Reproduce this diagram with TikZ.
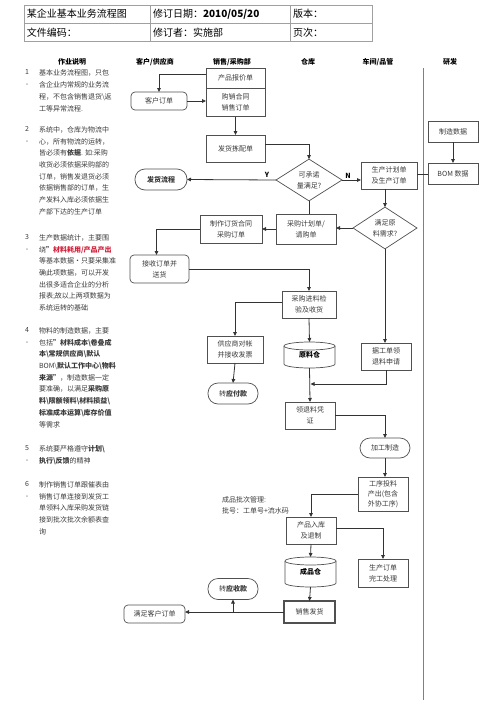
\documentclass[tikz,border=0pt]{standalone}
\usepackage{fontspec}
\setmainfont{Noto Sans CJK SC}
\usetikzlibrary{arrows.meta,shapes.geometric}
\definecolor{ln}{HTML}{333333}
\definecolor{bd}{HTML}{505050}
\definecolor{tx}{HTML}{3a3a3a}
\definecolor{redt}{HTML}{D0203A}
\definecolor{tbl}{HTML}{A0A0A0}
\begin{document}
\begin{tikzpicture}[x=1pt,y=-1pt,
 every node/.style={inner sep=0pt, outer sep=0pt, text=tx},
 bx/.style={draw=bd, line width=0.7pt, align=center, font=\fontsize{7}{11}\selectfont, fill=white},
 rbx/.style={bx, rounded corners=4pt},
 stad/.style={bx, rounded corners=10pt},
 dia/.style={bx, diamond},
 con/.style={draw=ln, line width=0.8pt},
 arr/.style={con, -{Triangle[length=4pt,width=3.6pt]}},
 hd/.style={font=\fontsize{7}{9}\selectfont\bfseries, text=black},
 lt/.style={font=\fontsize{7}{11.7}\selectfont, align=left, anchor=north west},
 num/.style={font=\fontsize{7}{11.7}\selectfont, align=center, anchor=north},
 tb/.style={font=\fontsize{10}{12}\selectfont, anchor=west, text=black},
 cyl/.style={draw=bd, line width=0.7pt, fill=white},
]
\useasboundingbox (0,0) rectangle (500,707);
% header table
\draw[draw=tbl, line width=0.6pt] (24,5) rectangle (372,41) (24,23) -- (372,23) (150,5) -- (150,41) (290,5) -- (290,41);
\node[tb] (t1) at (27,14) {某企业基本业务流程图};
\node[tb] (t2) at (153,14.5) {修订日期：\textbf{2010/05/20}};
\node[tb] (t3) at (293,14) {版本：};
\node[tb] (t4) at (27,32.5) {文件编码：};
\node[tb] (t5) at (153,32.5) {修订者：实施部};
\node[tb] (t6) at (293,32.5) {页次：};
% column headers
\node[hd] (h0) at (72,62) {作业说明};
\node[hd] (h1) at (155,62) {客户/供应商};
\node[hd] (h2) at (232,62) {销售/采购部};
\node[hd] (h3) at (308,62) {仓库};
\node[hd] (h4) at (378,62) {车间/品管};
\node[hd] (h5) at (450,62) {研发};
\draw[draw=gray, line width=0.8pt] (423,68) -- (423,700);
% left notes
\node[num] (m1) at (27,70) {1\\-};
\node[lt] (n1) at (39,70) {基本业务流程图，只包\\含企业内常规的业务流\\程，不包含销售退货\textbackslash 返\\工等异常流程.};
\node[num] (m2) at (27,126.5) {2\\-};
\node[lt] (n2) at (39,126.5) {系统中，仓库为物流中\\心，所有物流的运转，\\皆必须有\textbf{依据}. 如:采购\\收货必须依据采购部的\\订单，销售发退货必须\\依据销售部的订单，生\\产发料入库必须依据生\\产部下达的生产订单};
\node[num] (m3) at (27,234.5) {3\\-};
\node[lt] (n3) at (39,234.5) {生产数据统计，主要围\\绕\textbf{”}\textcolor{redt}{\textbf{材料耗用/产品产出}}\\等基本数据•只要采集准\\确此项数据，可以开发\\出很多适合企业的分析\\报表;故以上两项数据为\\系统运转的基础};
\node[num] (m4) at (27,327.5) {4\\-};
\node[lt] (n4) at (39,327.5) {物料的制造数据，主要\\包括\textbf{”材料成本\textbackslash 卷叠成}\\\textbf{本\textbackslash 常规供应商\textbackslash 默认}\\BOM\textbackslash\textbf{默认工作中心\textbackslash 物料}\\\textbf{来源”}，制造数据一定\\要准确，以满足\textbf{采购原}\\\textbf{料\textbackslash 限额领料\textbackslash 材料损益\textbackslash}\\\textbf{标准成本运算\textbackslash 库存价值}\\等需求};
\node[num] (m5) at (27,445.5) {5\\-};
\node[lt] (n5) at (39,445.5) {系统要严格遵守\textbf{计划\textbackslash}\\\textbf{执行\textbackslash 反馈}的精神};
\node[num] (m6) at (27,481.5) {6\\-};
\node[lt] (n6) at (39,481.5) {制作销售订单跟催表由\\销售订单连接到发货工\\单领料入库采购发货链\\接到批次批次余额表查\\询};
% flow nodes
\node[bx, minimum width=59pt, minimum height=20pt] (bj) at (235.5,78) {产品报价单};
\node[rbx, minimum width=56pt, minimum height=18pt] (kh) at (159,101) {客户订单};
\node[bx, minimum width=59pt, minimum height=28pt] (gx) at (235.5,102.5) {购销合同\\销售订单};
\node[bx, minimum width=59pt, minimum height=27pt] (fh) at (235.5,148.5) {发货拣配单};
\node[dia, minimum width=66pt, minimum height=39pt] (d1) at (309,180) {可承诺\\量满足?};
\node[stad, minimum width=52pt, minimum height=21pt, font=\fontsize{7}{9}\selectfont\bfseries] (fl) at (161,179.5) {发货流程};
\node[bx, line width=0.9pt, minimum width=56pt, minimum height=27pt] (sc) at (389,175.5) {生产计划单\\及生产订单};
\node[bx, minimum width=50pt, minimum height=21pt] (zz) at (453,131.5) {制造数据};
\node[bx, minimum width=50pt, minimum height=21pt] (bom) at (453,173.5) {BOM 数据};
\node[dia, minimum width=64pt, minimum height=40pt] (d2) at (385,228) {满足原\\料需求?};
\node[bx, minimum width=60pt, minimum height=30pt] (cg) at (306,229) {采购计划单/\\请购单};
\node[bx, minimum width=62pt, minimum height=28pt] (dh) at (231,229) {制作订货合同\\采购订单};
\node[rbx, minimum width=59pt, minimum height=28pt] (js) at (159.5,269) {接收订单并\\送货};
\node[bx, minimum width=54pt, minimum height=27pt] (jy) at (309,304.5) {采购进料检\\验及收货};
\node[bx, minimum width=56pt, minimum height=27pt] (gy) at (235,349.5) {供应商对帐\\并接收发票};
\node[stad, minimum width=50pt, minimum height=21pt] (yf) at (233,393.5) {转\textbf{应付款}};
% raw material cylinder
\draw[cyl] (284,346) -- (284,364) arc[start angle=180, end angle=360, x radius=25.5pt, y radius=4pt] -- (335,346);
\draw[cyl] (309.5,346) ellipse[x radius=25.5pt, y radius=4pt];
\node[minimum width=51pt, minimum height=26pt, font=\fontsize{7}{9}\selectfont\bfseries, text=black] (yl) at (309.5,355) {\raisebox{-2pt}{原料仓}};
\node[bx, minimum width=50pt, minimum height=27pt] (lq) at (386,356.5) {据工单领\\退料申请};
\node[bx, minimum width=50pt, minimum height=27pt] (lt) at (310,415.5) {领退料凭\\证};
\coordinate (jn) at (310.5,384);
\node[stad, minimum width=50pt, minimum height=20pt] (jg) at (385,448) {加工制造};
\node[bx, minimum width=50pt, minimum height=34pt, font=\fontsize{7}{10}\selectfont] (gp) at (383,494) {工序投料\\产出(包含\\外协工序)};
\node[anchor=west, align=left, font=\fontsize{7}{11}\selectfont] (note) at (222,505.5) {成品批次管理:\\批号：工单号+流水码};
\node[bx, minimum width=50pt, minimum height=27pt] (cp) at (311,530.5) {产品入库\\及退制};
\node[bx, minimum width=50pt, minimum height=28pt] (wg) at (383,573) {生产订单\\完工处理};
% finished goods cylinder
\draw[cyl] (285,561) -- (285,583) arc[start angle=180, end angle=360, x radius=25.5pt, y radius=4pt] -- (336,561);
\draw[cyl] (310.5,561) ellipse[x radius=25.5pt, y radius=4pt];
\node[minimum width=51pt, minimum height=30pt, font=\fontsize{7}{9}\selectfont\bfseries, text=black] (cpc) at (310.5,572) {\raisebox{-2pt}{成品仓}};
\node[bx, line width=1.1pt, minimum width=51pt, minimum height=22pt] (xs) at (309.5,612) {销售发货};
\node[rbx, minimum width=61pt, minimum height=18pt] (mz) at (154.5,614) {满足客户订单};
\node[stad, minimum width=50pt, minimum height=21pt] (ys) at (233,589) {转\textbf{应收款}};
% connectors
\draw[arr] ([yshift=4pt]bj.west) -| (kh.north);
\draw[arr] (kh.east) -- (gx.west |- kh.east);
\draw[arr] (gx.south) -- (fh.north);
\draw[arr] ([yshift=4.5pt]fh.east) -| (d1.north);
\draw[arr] (d1.west) -- (fl.east);
\node[font=\fontsize{7}{9}\selectfont\bfseries, text=black] (ylab) at (267,175) {Y};
\draw[arr] (d1.east) -- (sc.west |- d1.east);
\node[font=\fontsize{7}{9}\selectfont\bfseries, text=black] (nlab) at (348,176) {N};
\draw[con] (d1.south) -- (d1.south |- cg.north);
\draw[arr] (zz.south) -- (bom.north);
\draw[con] (sc.east |- 0,174) -- (bom.west |- 0,174);
\draw[arr] (sc.south -| d2.north) -- (d2.north);
\draw[arr] (d2.west) -- (d2.west -| cg.east);
\draw[arr] (cg.west) -- (cg.west -| dh.east);
\draw[arr] (dh.west) -| ([xshift=-3pt]js.north);
\draw[arr] (js.east) -| (jy.north);
\draw[arr] ([yshift=2pt]jy.west) -| (gy.north);
\draw[arr] (gy.south) -- (yf.north);
\draw[arr] (jy.south) -- (yl.north);
\draw[arr] (d2.south) -- (d2.south |- lq.north);
\draw[arr] (yl.south) -- (lt.north);
\draw[arr] (lq.south) |- (jn);
\draw[arr] (lt.east) -| (jg.north);
\draw[arr] (jg.south) -- (jg.south |- gp.north);
\draw[arr] (gp.west) -| (cp.north);
\draw[arr] ([yshift=2.5pt]cp.east) -| (wg.north);
\draw[arr] (cp.south) -- (cpc.north);
\draw[arr] (cpc.south) -- (xs.north);
\draw[arr] (xs.west) -- (xs.west -| mz.east);
\draw[arr] (xs.west -| ys.south) -- (ys.south);
\end{tikzpicture}
\end{document}
